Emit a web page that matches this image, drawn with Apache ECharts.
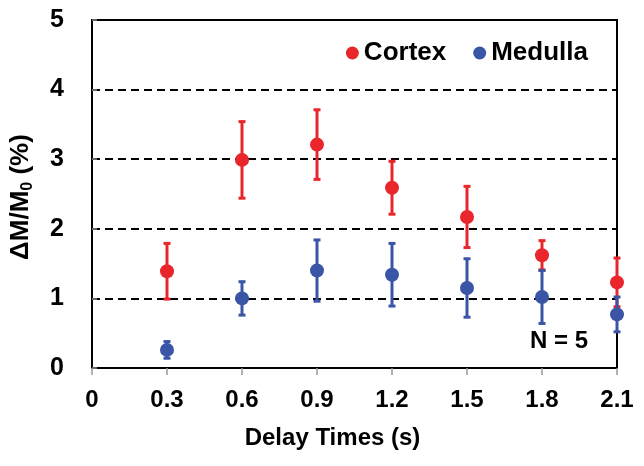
<!DOCTYPE html>
<html>
<head>
<meta charset="utf-8">
<script src="https://cdn.jsdelivr.net/npm/echarts@6/dist/echarts.min.js"></script>
<style>
html,body{margin:0;padding:0;background:#fff;}
#chart{width:644px;height:466px;}
</style>
</head>
<body>
<div id="chart"></div>
<script>
const delays = [0.3, 0.6, 0.9, 1.2, 1.5, 1.8, 2.1];
const cortex = [1.39, 2.99, 3.21, 2.59, 2.17, 1.62, 1.23];
const cortexErr = [0.40, 0.55, 0.50, 0.38, 0.44, 0.21, 0.35];
const medulla = [0.26, 1.00, 1.40, 1.34, 1.15, 1.02, 0.77];
const medullaErr = [0.12, 0.24, 0.44, 0.45, 0.42, 0.38, 0.25];
const xTicks = [0, 0.3, 0.6, 0.9, 1.2, 1.5, 1.8, 2.1];
const yTicks = [0, 1, 2, 3, 4, 5];

const RED = '#E8262B';
const BLUE = '#3B55A6';
const FONT = "'Liberation Sans', Arial, sans-serif";

function pts(xs, ys) { return xs.map((x, i) => [x, ys[i]]); }
function errs(xs, ys, es) { return xs.map((x, i) => [x, ys[i], es[i]]); }

function errorBar(color) {
  return function (params, api) {
    const x = api.value(0), y = api.value(1), e = api.value(2);
    const top = api.coord([x, y + e]);
    const bot = api.coord([x, y - e]);
    const cap = 3.5;
    const st = { stroke: color, lineWidth: 3 };
    return {
      type: 'group',
      children: [
        { type: 'line', shape: { x1: top[0], y1: top[1], x2: bot[0], y2: bot[1] }, style: st },
        { type: 'line', shape: { x1: top[0] - cap, y1: top[1], x2: top[0] + cap, y2: top[1] }, style: st },
        { type: 'line', shape: { x1: bot[0] - cap, y1: bot[1], x2: bot[0] + cap, y2: bot[1] }, style: st }
      ]
    };
  };
}

const chart = echarts.init(document.getElementById('chart'), null, { renderer: 'canvas' });
chart.setOption({
  animation: false,
  backgroundColor: '#fff',
  textStyle: { fontFamily: FONT },
  grid: { left: 91, right: 27, top: 20, bottom: 98, show: true, borderColor: '#000', borderWidth: 2, backgroundColor: 'transparent' },
  legend: {
    data: ['Cortex', 'Medulla'],
    right: 51, top: 35,
    icon: 'circle', itemWidth: 13, itemHeight: 13, itemGap: 27,
    textStyle: { fontFamily: FONT, fontWeight: 'bold', fontSize: 26, color: '#000' }
  },
  graphic: [{
    type: 'text', x: 588, y: 341,
    style: { text: 'N = 5', fontFamily: FONT, fontWeight: 'bold', fontSize: 24, fill: '#000', align: 'right', verticalAlign: 'middle' }
  }],
  xAxis: {
    type: 'value', min: xTicks[0], max: xTicks[xTicks.length - 1], interval: 0.3,
    name: 'Delay Times (s)', nameLocation: 'middle', nameGap: 58,
    nameTextStyle: { fontFamily: FONT, fontWeight: 'bold', fontSize: 24, color: '#000', padding: [0, 44, 0, 0] },
    axisLine: { lineStyle: { color: '#000', width: 2 } },
    axisTick: { show: true, inside: false, length: 7, lineStyle: { color: '#999', width: 1.5 } },
    axisLabel: { margin: 20, fontFamily: FONT, fontWeight: 'bold', fontSize: 24, color: '#000',
      formatter: v => (Math.abs(v) < 1e-9 ? '0' : v.toFixed(1)) },
    splitLine: { show: false }
  },
  yAxis: {
    type: 'value', min: yTicks[0], max: yTicks[yTicks.length - 1], interval: 1,
    name: '{a|ΔM/M}{s|0}{a| (%)}', nameLocation: 'middle', nameGap: 56, nameRotate: 90,
    nameTextStyle: {
      padding: [0, 6, 0, 0],
      rich: {
        a: { fontFamily: FONT, fontWeight: 'bold', fontSize: 26, color: '#000', lineHeight: 30 },
        s: { fontFamily: FONT, fontWeight: 'bold', fontSize: 16, color: '#000', lineHeight: 18, verticalAlign: 'bottom' }
      }
    },
    axisLine: { lineStyle: { color: '#000', width: 2 } },
    axisTick: { show: true, inside: true, length: 5, lineStyle: { color: '#888', width: 1.5 } },
    axisLabel: { margin: 28, fontFamily: FONT, fontWeight: 'bold', fontSize: 25, color: '#000' },
    splitLine: { show: true, showMinLine: false, showMaxLine: false, lineStyle: { color: '#000', width: 2, type: [8, 5] } }
  },
  series: [
    { name: 'Cortex', type: 'custom', renderItem: errorBar(RED), itemStyle: { color: RED },
      data: errs(delays, cortex, cortexErr), z: 2 },
    { name: 'Cortex', type: 'scatter', symbol: 'circle', symbolSize: 14, itemStyle: { color: RED, opacity: 1 },
      data: pts(delays, cortex), z: 3 },
    { name: 'Medulla', type: 'custom', renderItem: errorBar(BLUE), itemStyle: { color: BLUE },
      data: errs(delays, medulla, medullaErr), z: 4 },
    { name: 'Medulla', type: 'scatter', symbol: 'circle', symbolSize: 14, itemStyle: { color: BLUE, opacity: 1 },
      data: pts(delays, medulla), z: 5 }
  ]
});
</script>
</body>
</html>
